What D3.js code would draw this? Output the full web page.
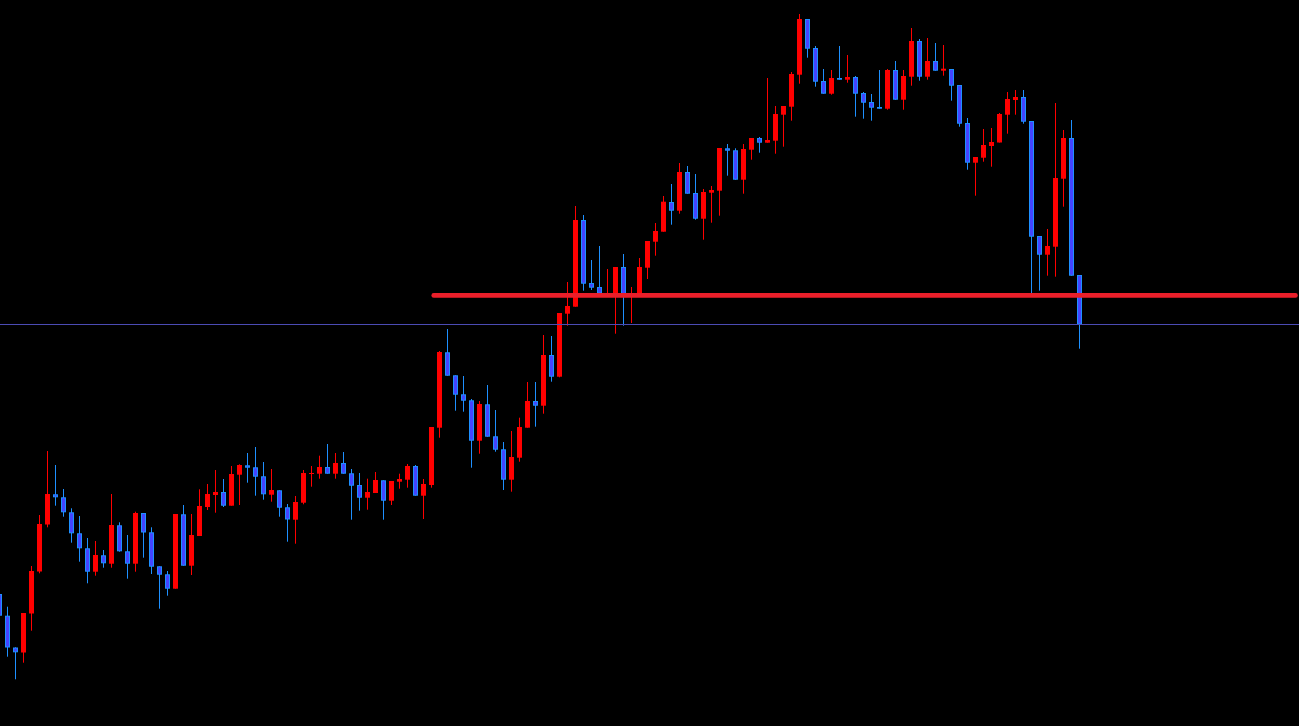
<!DOCTYPE html>
<html>
<head>
<meta charset="utf-8">
<script src="https://cdn.jsdelivr.net/npm/d3@7"></script>
<style>
  html, body { margin: 0; padding: 0; background: #000; overflow: hidden; }
  svg { display: block; }
</style>
</head>
<body>
<div class="canvas"></div>
<script>
// price bars, oldest first
const open = [
  1132, 1110.3, 1078.5, 1073.5, 1112.5, 1154.5, 1201.5, 1231.7, 1228.7, 1213.7,
  1192.7, 1177.7, 1154.3, 1170.7, 1162.3, 1200.7, 1174.7, 1162.3, 1213, 1193.7,
  1159.7, 1151.7, 1137.3, 1211.7, 1160.3, 1190, 1219, 1231, 1234, 1220.3,
  1251.3, 1260.7, 1258.7, 1249.7, 1231.3, 1235.7, 1218.7, 1206.3, 1223.3, 1252.4,
  1252.3, 1259, 1252.3, 1263, 1252.7, 1241, 1228.3, 1233, 1245.7, 1225.3,
  1244.3, 1246.3, 1260, 1230.3, 1241, 1298.3, 1373.7, 1350.7, 1331.7, 1325.7,
  1285.3, 1321.7, 1289.7, 1276.7, 1246.3, 1268.3, 1298.3, 1325, 1320.3, 1371,
  1349.3, 1412.3, 1419.3, 1506, 1443, 1439, 1430.5, 1431, 1459, 1430,
  1432, 1458.3, 1484.3, 1494.3, 1524, 1515.3, 1554, 1533, 1507.3, 1533.3,
  1535.3, 1577.7, 1575.7, 1546.3, 1576.3, 1588, 1583.3, 1585.3, 1611.3, 1619.3,
  1651.3, 1707, 1678, 1645, 1632.3, 1648, 1646.3, 1649, 1633, 1624,
  1619, 1617.3, 1656, 1626.3, 1649.3, 1685, 1649.3, 1665, 1655.3, 1657,
  1641, 1603, 1563.3, 1568.3, 1580, 1583.5, 1611.3, 1626, 1629, 1605,
  1490, 1471.3, 1479.3, 1547.3, 1588, 1451
];
const high = [
  1135, 1119.3, 1078.7, 1113, 1160, 1211, 1275, 1261, 1237, 1217.7,
  1210, 1188, 1185, 1176, 1232, 1203.7, 1191, 1214.3, 1213, 1198.7,
  1159.7, 1155, 1212, 1221, 1212, 1236.7, 1242, 1256, 1247, 1260,
  1261.7, 1273, 1279, 1264, 1257, 1235.7, 1222, 1230, 1256, 1260,
  1270.3, 1282, 1273, 1274, 1257, 1253, 1247.3, 1254, 1245.7, 1245,
  1252.3, 1262, 1261, 1247, 1299, 1375, 1397, 1350.7, 1350, 1327,
  1325, 1341, 1316, 1284, 1295, 1308.3, 1344, 1344, 1391, 1390,
  1413, 1444, 1520, 1511, 1466, 1480, 1457, 1459, 1472, 1439,
  1468, 1485, 1503, 1530, 1542, 1563, 1560, 1552, 1537, 1540,
  1578, 1582, 1577.7, 1582, 1588, 1589, 1648, 1620, 1620, 1654,
  1712, 1707, 1680, 1657, 1656, 1680, 1671, 1650, 1634, 1632,
  1656, 1657, 1665, 1656, 1698, 1687, 1688, 1683, 1681, 1657,
  1641, 1608, 1569, 1597, 1598, 1613, 1634, 1636, 1636, 1605,
  1490, 1497, 1623, 1596, 1606, 1451
];
const low = [
  1108, 1069.3, 1046.7, 1063.3, 1095.3, 1152.7, 1198.7, 1220.3, 1209.3, 1183.3,
  1164.3, 1142.7, 1150.3, 1158.3, 1158.3, 1174.3, 1147.3, 1154.3, 1168.3, 1152,
  1117.3, 1130.3, 1137.3, 1160.3, 1151, 1190, 1216, 1213.3, 1219, 1220.3,
  1221, 1243.3, 1230.3, 1226.3, 1224.3, 1209.3, 1184.3, 1182.3, 1221.7, 1239.3,
  1247.3, 1252.3, 1247.3, 1252.3, 1206.3, 1215.3, 1216.3, 1233, 1206.3, 1221,
  1237.3, 1238.3, 1230.3, 1207, 1238.3, 1288.3, 1350.3, 1315.3, 1314.3, 1258.3,
  1272.3, 1289.3, 1274.3, 1236, 1234.3, 1264.3, 1298.3, 1299.3, 1312.3, 1344.3,
  1348.7, 1400.3, 1419.3, 1435.3, 1436, 1432, 1430, 1392.3, 1400.3, 1403,
  1432, 1447, 1470.3, 1494.3, 1501.3, 1512.3, 1532.3, 1506.3, 1486.3, 1503.3,
  1510.3, 1550.3, 1546.3, 1532.3, 1566.3, 1573.3, 1583.3, 1572.3, 1579.3, 1605.3,
  1642.3, 1668.3, 1639.3, 1632.3, 1631.3, 1646.3, 1643.3, 1609.3, 1607.3, 1605.3,
  1617.3, 1616.3, 1626.3, 1616.3, 1640.3, 1645.3, 1646.3, 1655.3, 1650.3, 1625.3,
  1599.3, 1556.3, 1530.3, 1564.3, 1559.3, 1583.5, 1592.3, 1611.3, 1602.3, 1433,
  1435.3, 1450.3, 1449.3, 1519.3, 1450.3, 1377.3
];
const close = [
  1110.3, 1078.5, 1073.7, 1113, 1155, 1202, 1232, 1228.7, 1213.7, 1192.7,
  1177.7, 1154.3, 1171, 1162.7, 1201, 1174.7, 1162.3, 1213, 1193.5, 1159.3,
  1151.3, 1137.3, 1212, 1160.3, 1191, 1220, 1232, 1234, 1220.3, 1252,
  1261, 1258.3, 1249.3, 1231.7, 1236, 1218.3, 1206.5, 1224, 1253, 1253,
  1259, 1252.3, 1263, 1252.3, 1240.3, 1228.3, 1234, 1246, 1225.3, 1245,
  1247, 1260, 1230.3, 1242, 1299, 1374, 1350.3, 1331.3, 1325.3, 1285.3,
  1322, 1289.3, 1276.3, 1246.3, 1269, 1299, 1325, 1320.3, 1371, 1349.3,
  1413, 1420, 1506, 1442.3, 1438.3, 1432.5, 1431.5, 1459, 1431, 1432,
  1459, 1485, 1495, 1524.3, 1515.3, 1554, 1532.3, 1507.3, 1534, 1536,
  1578, 1575.3, 1546.3, 1577, 1588, 1583.3, 1586, 1612, 1620, 1652,
  1707, 1677.3, 1644.3, 1632.3, 1648, 1646.3, 1649, 1632.3, 1623.3, 1618.3,
  1617.3, 1656, 1626.3, 1650, 1685, 1649.3, 1665, 1655.3, 1657.3, 1640.3,
  1602.3, 1563.3, 1569, 1581, 1584, 1612, 1627, 1629, 1604.3, 1489.3,
  1471.3, 1480, 1548, 1588, 1450.3, 1401.7
];

// horizontal level drawn by hand, and the bid line at the last close
const levelPrice = 1430.6;
const levelFrom = 54;
const bidPrice = close[close.length - 1];

const width = 1299;
const height = 726;

const bars = open.map((o, i) => ({
  i: i,
  o: o,
  h: high[i],
  l: low[i],
  c: close[i],
  up: close[i] >= o
}));

const x = d3.scaleLinear()
  .domain([0, bars.length - 1])
  .range([-0.5, -0.5 + 8 * (bars.length - 1)]);

// visible price window of the chart
const y = d3.scaleLinear()
  .domain([1000, 1726])
  .range([height, 0]);

const svg = d3.select(".canvas")
  .append("svg")
  .attr("width", width)
  .attr("height", height);

svg.append("rect")
  .attr("width", width)
  .attr("height", height)
  .attr("fill", "#000");

const candles = svg.append("g");

const bar = candles.selectAll("g")
  .data(bars)
  .enter()
  .append("g");

bar.append("line")
  .attr("x1", d => x(d.i))
  .attr("x2", d => x(d.i))
  .attr("y1", d => y(d.h))
  .attr("y2", d => y(d.l))
  .attr("stroke", d => d.up ? "#ff0000" : "#1e90ff")
  .attr("stroke-width", 1);

// up bars: solid red
bar.filter(d => d.up)
  .append("rect")
  .attr("x", d => x(d.i) - 2.5)
  .attr("width", 5)
  .attr("y", d => y(d.c))
  .attr("height", d => Math.max(1, y(d.o) - y(d.c)))
  .attr("fill", "#ff0000");

// down bars: blue with a lighter edge
bar.filter(d => !d.up)
  .append("rect")
  .attr("x", d => x(d.i) - 2)
  .attr("width", 4)
  .attr("y", d => y(d.o) + 0.5)
  .attr("height", d => Math.max(0.2, y(d.c) - y(d.o) - 1))
  .attr("fill", "#4444ff")
  .attr("stroke", "#1e90ff")
  .attr("stroke-width", 1);

svg.append("line")
  .attr("x1", 0)
  .attr("x2", width)
  .attr("y1", Math.round(y(bidPrice)) + 0.5)
  .attr("y2", Math.round(y(bidPrice)) + 0.5)
  .attr("stroke", "#4b4bb4")
  .attr("stroke-width", 1);

svg.append("line")
  .attr("x1", x(levelFrom) + 2.2)
  .attr("x2", width - 3.5)
  .attr("y1", y(levelPrice))
  .attr("y2", y(levelPrice))
  .attr("stroke", "#ea1f2a")
  .attr("stroke-width", 4.6)
  .attr("stroke-linecap", "round");
</script>
</body>
</html>
